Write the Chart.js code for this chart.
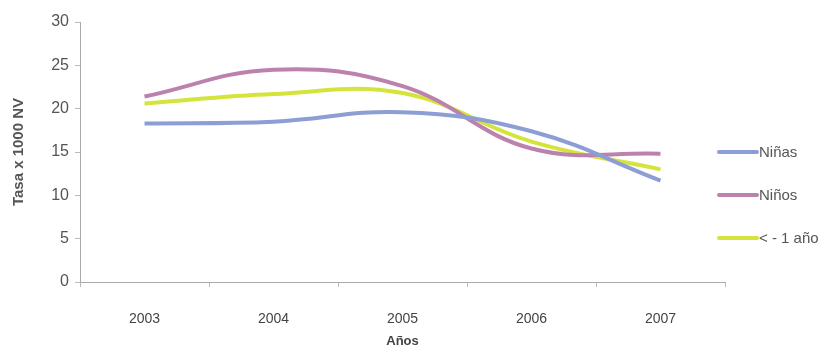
<!DOCTYPE html>
<html><head><meta charset="utf-8">
<script src="https://cdn.jsdelivr.net/npm/chart.js@4/dist/chart.umd.min.js"></script>
<style>html,body{margin:0;padding:0;background:#fff}#wrap{width:840px;height:352px}</style>
</head><body><div id="wrap"><canvas id="c" width="840" height="352"></canvas></div>
<script>
const years = ['2003','2004','2005','2006','2007'];
const ninas = [18.3, 18.5, 19.6, 17.4, 11.7];
const ninos = [21.4, 24.5, 22.6, 15.4, 14.8];
const menor1 = [20.6, 21.7, 21.8, 16.2, 13.0];
const seriesNames = ['Niñas', 'Niños', '< - 1 año'];
const seriesColors = ['#8c9ed3', '#bb82ad', '#d5e43a'];
const yTicks = [0, 5, 10, 15, 20, 25, 30];

const legendPlugin = {
  id: 'sideLegend',
  afterDraw(chart) {
    const ctx = chart.ctx;
    const ds = chart.data.datasets;
    ctx.save();
    ds.forEach((d, i) => {
      const y = 152 + i * 43;
      ctx.strokeStyle = d.borderColor;
      ctx.lineWidth = 4;
      ctx.lineCap = 'round';
      ctx.beginPath(); ctx.moveTo(719, y); ctx.lineTo(757, y); ctx.stroke();
      ctx.fillStyle = '#555';
      ctx.font = '15px "Liberation Sans", Arial, sans-serif';
      ctx.textBaseline = 'middle';
      ctx.fillText(d.label, 759, y + 1);
    });
    ctx.restore();
  }
};

new Chart(document.getElementById('c'), {
  type: 'line',
  data: {
    labels: years,
    datasets: [ninas, ninos, menor1].map((v, i) => ({
      label: seriesNames[i], data: v, borderColor: seriesColors[i],
      borderWidth: 4, tension: 0.4, pointRadius: 0, fill: false
    }))
  },
  options: {
    responsive: false, animation: false,
    layout: { padding: { top: 22, right: 115, left: 0, bottom: 0 } },
    plugins: { legend: { display: false }, tooltip: { enabled: false } },
    scales: {
      x: {
        offset: true,
        afterFit: s => { s.height = 70; },
        grid: { offset: true, drawOnChartArea: false, color: '#bbb', tickLength: 5 },
        border: { color: '#aaa' },
        ticks: { color: '#444', padding: 24, font: { size: 14, family: '"Liberation Sans", Arial, sans-serif' } },
        title: { display: true, text: 'Años', color: '#444', padding: { top: 0, bottom: 3 },
          font: { size: 13, weight: 'bold', family: '"Liberation Sans", Arial, sans-serif' } }
      },
      y: {
        min: 0, max: 30,
        afterFit: s => { s.width = 80; },
        afterBuildTicks: s => { s.ticks = yTicks.map(v => ({ value: v })); },
        grid: { drawOnChartArea: false, color: '#bbb', tickLength: 5 },
        border: { color: '#aaa' },
        ticks: { color: '#555', padding: 6, font: { size: 16, family: '"Liberation Sans", Arial, sans-serif' } },
        title: { display: true, text: 'Tasa x 1000 NV', color: '#555', padding: { top: 10, bottom: 0 },
          font: { size: 15, weight: 'bold', family: '"Liberation Sans", Arial, sans-serif' } }
      }
    }
  },
  plugins: [legendPlugin]
});
</script></body></html>
